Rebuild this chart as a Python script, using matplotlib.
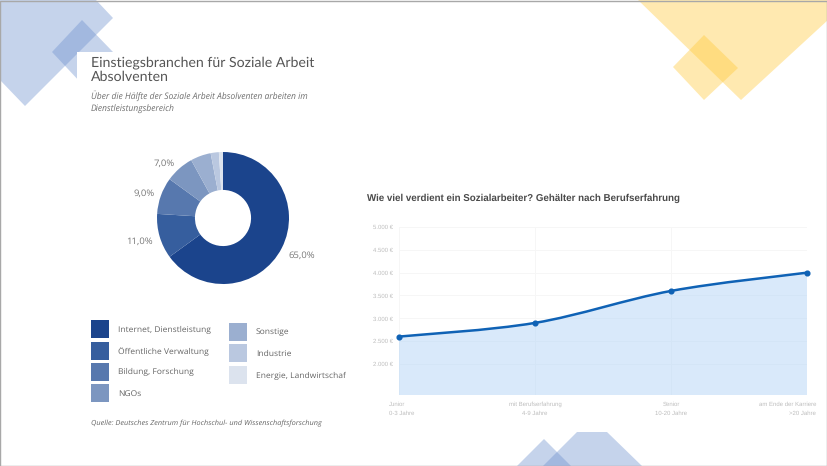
# Einstiegsbranchen (Donut) und Gehaelter nach Berufserfahrung (Flaeche)
import matplotlib
matplotlib.use('Agg')
import matplotlib.pyplot as plt
from matplotlib.patches import Polygon, Rectangle, PathPatch
from matplotlib.path import Path

# kleine Schrift sonst zu stark verzerrt
plt.rcParams['text.hinting'] = 'no_hinting'

W = 828
H = 466

# Daten Donut
branchen = ['Internet, Dienstleistung', 'Öffentliche Verwaltung', 'Bildung, Forschung', 'NGOs',
            'Sonstige', 'Industrie', 'Energie, Landwirtschaft']
anteile = [65, 11, 9, 7, 5, 2, 1]
anteil_labels = ['65,0%', '11,0%', '9,0%', '7,0%', '', '', '']
farben = ['#1B448C', '#365E9E', '#5778AE', '#7C96C0', '#9BAFD0', '#BAC8E0', '#DCE3EE']

# Daten Gehalt
stufen = ['Junior', 'mit Berufserfahrung', 'Senior', 'am Ende der Karriere']
jahre = ['0-3 Jahre', '4-9 Jahre', '10-20 Jahre', '>20 Jahre']
gehalt = [2600, 2900, 3600, 4000]
y_ticks = [2000, 2500, 3000, 3500, 4000, 4500, 5000]
y_labels = ['2.000 €', '2.500 €', '3.000 €', '3.500 €', '4.000 €', '4.500 €', '5.000 €']

fig = plt.figure(figsize=(W / 100, H / 100), dpi=100, facecolor='white')

# Hintergrund in Pixelkoordinaten
bg = fig.add_axes([0, 0, 1, 1], zorder=0)
bg.set_xlim(0, W)
bg.set_ylim(H, 0)
bg.axis('off')

blau = '#6E91CF'
gelb = '#FFCA3A'
formen = [
    ([(0, 0), (96, 0), (113, 18), (25, 106), (0, 80)], blau),
    ([(82, 20), (113, 52), (82, 84), (52, 52)], blau),
    ([(638, 0), (741, 100), (828, 20), (828, 0)], gelb),
    ([(704, 35), (738, 68), (704, 100), (673, 67)], gelb),
    ([(517, 466), (544, 439), (571, 466)], blau),
    ([(543, 466), (577, 432), (607, 432), (642, 466)], blau),
]
for punkte, farbe in formen:
    bg.add_patch(Polygon(punkte, closed=True, facecolor=farbe, edgecolor='none', alpha=0.4))

# weisse Box hinter dem Titel
bg.add_patch(Rectangle((77, 52), 270, 60, facecolor='white', edgecolor='none'))

# Rahmen vom Screenshot
bg.add_patch(Rectangle((0.5, 0.5), W - 1, H - 1, facecolor='none', edgecolor='#A8A8A8', linewidth=1))

# Texte links
bg.text(91, 63, 'Einstiegsbranchen für Soziale Arbeit', family='Lato', fontsize=10.2, color='#555555', va='center')
bg.text(91, 77, 'Absolventen', family='Lato', fontsize=10.2, color='#555555', va='center')
bg.text(91, 96, 'Über die Hälfte der Soziale Arbeit Absolventen arbeiten im', family='Open Sans',
        style='italic', fontsize=6.15, color='#707070', va='center')
bg.text(91, 110, 'Dienstleistungsbereich', family='Open Sans', style='italic', fontsize=6.15,
        color='#707070', va='center')
bg.text(91, 423, 'Quelle: Deutsches Zentrum für Hochschul- und Wissenschaftsforschung', family='Open Sans',
        style='italic', fontsize=5.3, color='#666666', va='center')

# Legende, zwei Spalten
leg_pos = [(91, 320), (91, 342), (91, 363), (91, 384), (229, 323), (229, 344), (229, 366)]
clip = Rectangle((80, 310), 266, 100, transform=bg.transData)
for name, farbe, (lx, ly) in zip(branchen, farben, leg_pos):
    bg.add_patch(Rectangle((lx, ly), 18, 18, facecolor=farbe, edgecolor='none'))
    t = bg.text(lx + 27, ly + 9.5, name, family='Open Sans', fontsize=6.1, color='#666666', va='center')
    t.set_clip_path(clip)
    t.set_clip_on(True)

# Ueberschrift rechts
bg.text(367, 198, 'Wie viel verdient ein Sozialarbeiter? Gehälter nach Berufserfahrung',
        family='Liberation Sans', weight='bold', fontsize=7.05, color='#4A4A4A', va='center')

# Donut
cx, cy, r = 223, 218, 66
seite = 2 * r * 1.25
ax_pie = fig.add_axes([(cx - seite / 2) / W, 1 - (cy + seite / 2) / H, seite / W, seite / H], zorder=1)
wedges, texts = ax_pie.pie(anteile, labels=anteil_labels, colors=farben, startangle=90, counterclock=False,
                           labeldistance=1.106, wedgeprops=dict(width=0.575, edgecolor='none'),
                           textprops=dict(family='Open Sans', fontsize=6.8, color='#777777'))
ax_pie.set_aspect('equal')
# Labels etwas nach unten wie im Original
for t, dy in zip(texts[:2], [-0.07, -0.05]):
    t.set_y(t.get_position()[1] + dy)

# Flaechendiagramm: x 399..807, y 227..395 px
ax = fig.add_axes([399 / W, 1 - 395 / H, (807 - 399) / W, (395 - 227) / H], zorder=1)
ax.patch.set_visible(False)
x = list(range(len(gehalt)))
y_min = 1321
ax.set_xlim(0, len(gehalt) - 1)
ax.set_ylim(y_min, 5000)
for s in ax.spines.values():
    s.set_visible(False)
ax.set_xticks(x)
ax.set_xticklabels([])
ax.set_yticks(y_ticks)
ax.set_yticklabels(y_labels, family='Liberation Sans', fontsize=4.3, color='#BDBDBD')
ax.tick_params(length=0, pad=4)
ax.grid(color='#F6F6F6', linewidth=0.7)
ax.set_axisbelow(True)

# Spline als Bezier-Pfad durch die vier Werte
verts = [(x[0], gehalt[0])]
codes = [Path.MOVETO]
for i in range(len(x) - 1):
    i0 = max(i - 1, 0)
    i2 = min(i + 2, len(x) - 1)
    c1 = (x[i] + (x[i + 1] - x[i0]) / 6, gehalt[i] + (gehalt[i + 1] - gehalt[i0]) / 6)
    c2 = (x[i + 1] - (x[i2] - x[i]) / 6, gehalt[i + 1] - (gehalt[i2] - gehalt[i]) / 6)
    verts += [c1, c2, (x[i + 1], gehalt[i + 1])]
    codes += [Path.CURVE4] * 3

flaeche = Path(verts + [(x[-1], y_min), (x[0], y_min), (x[0], gehalt[0])],
               codes + [Path.LINETO, Path.LINETO, Path.CLOSEPOLY])
ax.add_patch(PathPatch(flaeche, facecolor='#B4D5F7', edgecolor='none', alpha=0.5, zorder=2))
ax.add_patch(PathPatch(Path(verts, codes), facecolor='none', edgecolor='#0F62B5', linewidth=1.8,
                       capstyle='round', clip_on=False, zorder=3))
ax.plot(x, gehalt, 'o', color='#0F62B5', markersize=3.4, clip_on=False, zorder=4)

# x-Beschriftung, erste und letzte Spalte buendig am Rand
ausrichtung = ['left', 'center', 'center', 'right']
versatz = [-10, 0, 0, 9]
for xi, stufe, jahr, ha, dx in zip(x, stufen, jahre, ausrichtung, versatz):
    for text, dy in [(stufe, -9.5), (jahr, -18.5)]:
        ax.annotate(text, xy=(xi, 0), xycoords=('data', 'axes fraction'), xytext=(dx, dy),
                    textcoords='offset pixels', ha=ha, va='center', family='Liberation Sans',
                    fontsize=4.3, color='#BDBDBD', annotation_clip=False)

fig.savefig('out.png', dpi=100)
